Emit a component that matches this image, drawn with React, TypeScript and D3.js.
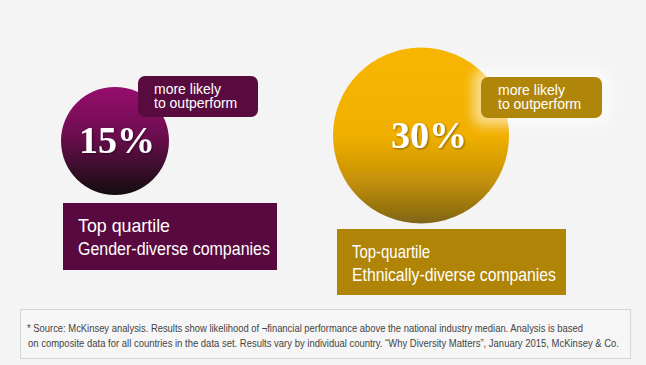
import React from 'react';
import * as d3 from 'd3';

// chart data
const values = [15, 30];
const categories = [
  ['Top quartile', 'Gender-diverse companies'],
  ['Top-quartile', 'Ethnically-diverse companies'],
];
const callout = ['more likely', 'to outperform'];
const footnote = [
  '* Source: McKinsey analysis. Results show likelihood of \u00acfinancial performance above the national industry median. Analysis is based',
  'on composite data for all countries in the data set. Results vary by individual country. \u201cWhy Diversity Matters\u201d, January 2015, McKinsey & Co.',
];

const W = 646;
const H = 365;

// layout for each bubble
const layout = [
  { cx: 115, cy: 141, box: [138, 76, 120, 41], label: [63, 203, 214, 67], pct: [117, 153], boxFill: '#590b3f', labelFill: '#580a40', textW: [92, 192] },
  { cx: 421, cy: 135.5, box: [481, 77, 121, 41], label: [337, 229, 229, 66], pct: [429, 148], boxFill: '#b0860a', labelFill: '#b08406', textW: [78, 204] },
];

const gradients = [
  [['0%', '#970a6d'], ['45%', '#6c0a4f'], ['100%', '#140e11']],
  [['0%', '#f6b600'], ['50%', '#f1b000'], ['75%', '#c69208'], ['100%', '#7f6514']],
];

const App: React.FC = () => {
  const r = d3.scaleLinear().domain([0, 30]).range([20, 88]);
  const font = 'Liberation Sans, Arial, sans-serif';

  return (
    <svg width={W} height={H} style={{ position: 'absolute', left: 0, top: 0, display: 'block' }}>
      <defs>
        {gradients.map((g, i) => (
          <linearGradient key={i} id={'grad' + i} x1="0" y1="0" x2="0" y2="1">
            {g.map(([o, c]) => (
              <stop key={o} offset={o} stopColor={c} />
            ))}
          </linearGradient>
        ))}
        <filter id="glow" x="-30%" y="-30%" width="160%" height="160%">
          <feGaussianBlur stdDeviation="6" />
        </filter>
        <filter id="shadow" x="-20%" y="-20%" width="140%" height="140%">
          <feDropShadow dx="1" dy="1" stdDeviation="1" floodColor="#000" floodOpacity="0.45" />
        </filter>
        <filter id="soft" x="-10%" y="-10%" width="120%" height="120%">
          <feGaussianBlur stdDeviation="0.6" />
        </filter>
      </defs>
      <rect width={W} height={H} fill="#f4f4f4" />

      {values.map((v, i) => {
        const L = layout[i];
        const [bx, by, bw, bh] = L.box;
        const [lx, ly, lw, lh] = L.label;
        return (
          <g key={i}>
            <circle cx={L.cx} cy={L.cy} r={r(v)} fill={`url(#grad${i})`} filter="url(#soft)" />
            <text
              x={L.pct[0]}
              y={L.pct[1]}
              textAnchor="middle"
              fill="#fff"
              fontFamily="Liberation Serif, Times New Roman, serif"
              fontWeight="bold"
              fontSize={38}
              filter="url(#shadow)"
            >
              {v}%
            </text>
            {i === 1 && (
              <rect x={bx - 8} y={by - 8} width={bw + 16} height={bh + 16} rx={10} fill="#fff" opacity={0.55} filter="url(#glow)" />
            )}
            <rect x={bx} y={by} width={bw} height={bh} rx={7} fill={L.boxFill} />
            {callout.map((t, j) => (
              <text key={j} x={bx + (i === 0 ? 16 : 17)} y={by + 18 + j * 13.5} fill="#fff" fontFamily={font} fontSize={14}>
                {t}
              </text>
            ))}
            <rect x={lx} y={ly} width={lw} height={lh} fill={L.labelFill} />
            {categories[i].map((t, j) => (
              <text
                key={j}
                x={lx + 15}
                y={ly + 29 + j * 22.5}
                fill="#fff"
                fontFamily={font}
                fontSize={19}
                textLength={L.textW[j]}
                lengthAdjust="spacingAndGlyphs"
              >
                {t}
              </text>
            ))}
          </g>
        );
      })}

      <rect x={20.5} y={309.5} width={610} height={49} fill="#f6f6f6" stroke="#d6d6d6" />
      {footnote.map((t, j) => (
        <text
          key={j}
          x={27 + j}
          y={332 + j * 14.5}
          fill="#444"
          fontFamily={font}
          fontSize={11}
          textLength={j === 0 ? 556 : 591}
          lengthAdjust="spacingAndGlyphs"
        >
          {t}
        </text>
      ))}
    </svg>
  );
};

export default App;
